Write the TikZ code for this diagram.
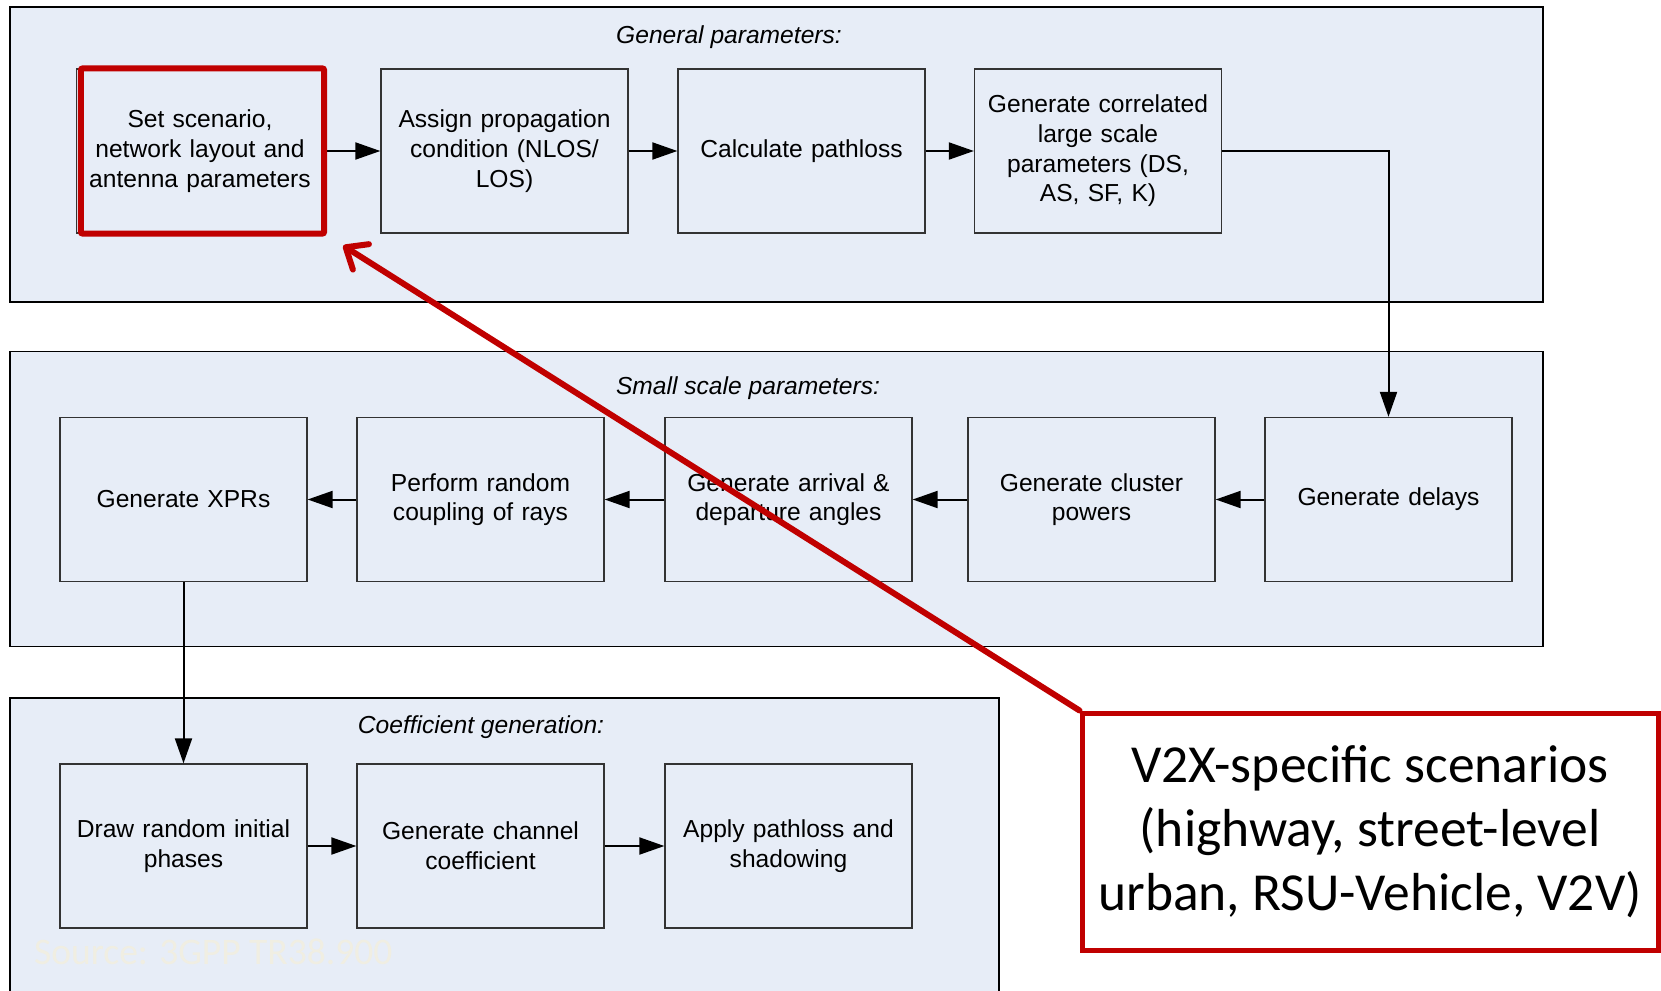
\documentclass[tikz,border=0pt]{standalone}
\usepackage{fontspec}
\setmainfont{Liberation Sans}
\newfontfamily\calibri{Carlito}
\usetikzlibrary{arrows.meta}
\definecolor{panelblue}{RGB}{231,237,247}
\definecolor{hired}{RGB}{192,0,0}
\definecolor{faintsrc}{RGB}{240,238,226}

\begin{document}
\begin{tikzpicture}[x=1pt,y=-1pt,>={Triangle[length=25pt,width=17pt]},node distance=297pt,
  panel/.style={draw=black,line width=1.5pt,fill=panelblue,minimum width=1533pt,minimum height=295pt},
  title/.style={font=\fontsize{24.6}{29.7}\selectfont\itshape},
  main node/.style={draw=black!80,line width=1.3pt,fill=panelblue,minimum width=247pt,minimum height=164pt,
    text width=236pt,align=center,inner sep=4pt,font=\fontsize{24.6}{29.7}\selectfont},
  flow/.style={->,line width=2pt},
  hilite/.style={draw=hired,line width=6pt,rounded corners=2pt},
  callout/.style={draw=hired,line width=5pt,fill=white,minimum width=576pt,minimum height=237pt,
    align=center,font=\calibri\fontsize{53.5}{64}\selectfont},
  pointer/.style={hired,line width=6pt,line cap=round,
    -{Straight Barb[length=18pt,width=30pt,line join=round,line cap=round]}},
  src/.style={text=faintsrc,inner sep=0pt,font=\calibri\fontsize{37.5}{45}\selectfont}]

  \useasboundingbox (0,0) rectangle (1661,990);

  % the three panels
  \node[panel] (gen) at (776.5,154.5) {};
  \node[panel] (small) at (776.5,499) {};
  \node[panel,minimum width=989pt,minimum height=297pt] (coef) at (504.5,846.5) {};

  \node[title] (gentitle) at (729,37) {General parameters:};
  \node[title] (smalltitle) at (748,388) {Small scale parameters:};
  \node[title] (coeftitle) at (481,727) {Coefficient generation:};

  % general parameters
  \node[main node] (scen) at (200,151) {Set scenario,\\ network layout and\\ antenna parameters};
  \node[main node] (prop) [right of=scen,node distance=304.5pt] {Assign propagation\\ condition (NLOS/\\ LOS)};
  \node[main node] (ploss) [right of=prop] {Calculate pathloss};
  \node[main node] (lsp) [right of=ploss,node distance=296.5pt] {Generate correlated\\ large scale\\ parameters (DS,\\ AS, SF, K)};

  % small scale parameters
  \node[main node] (delays) at (1388.5,499.5) {Generate delays};
  \node[main node] (powers) [left of=delays] {Generate cluster\\ powers};
  \node[main node] (angles) [left of=powers,node distance=303pt] {Generate arrival \&\\ departure angles};
  \node[main node] (coupl) [left of=angles,node distance=308pt] {Perform random\\ coupling of rays};
  \node[main node] (xpr) [left of=coupl] {Generate XPRs};

  % coefficient generation
  \node[main node] (phases) at (183.5,846) {Draw random initial\\ phases};
  \node[main node] (coeff) [right of=phases] {Generate channel\\ coefficient};
  \node[main node] (apply) [right of=coeff,node distance=308pt] {Apply pathloss and\\ shadowing};

  \node[src,anchor=west] (source) at (34,952) {Source: 3GPP TR38.900};

  \path[flow]
    (scen) edge (prop)
    (prop) edge (ploss)
    (ploss) edge (lsp)
    (delays) edge (powers)
    (powers) edge (angles)
    (angles) edge (coupl)
    (coupl) edge (xpr)
    (xpr) edge (phases)
    (phases) edge (coeff)
    (coeff) edge (apply);
  \draw[flow] (lsp.east) -| (delays.north);

  % highlight and callout
  \draw[hilite] ([xshift=5pt]scen.north west) rectangle (scen.south east);
  \node[callout] (v2x) at (1370,831.5) {V2X-specific scenarios\\ (highway, street-level\\ urban, RSU-Vehicle, V2V)};
  \coordinate (tip) at ([shift={(19,12)}]scen.south east);
  \draw[pointer] (v2x.north west) -- (tip);
\end{tikzpicture}
\end{document}
